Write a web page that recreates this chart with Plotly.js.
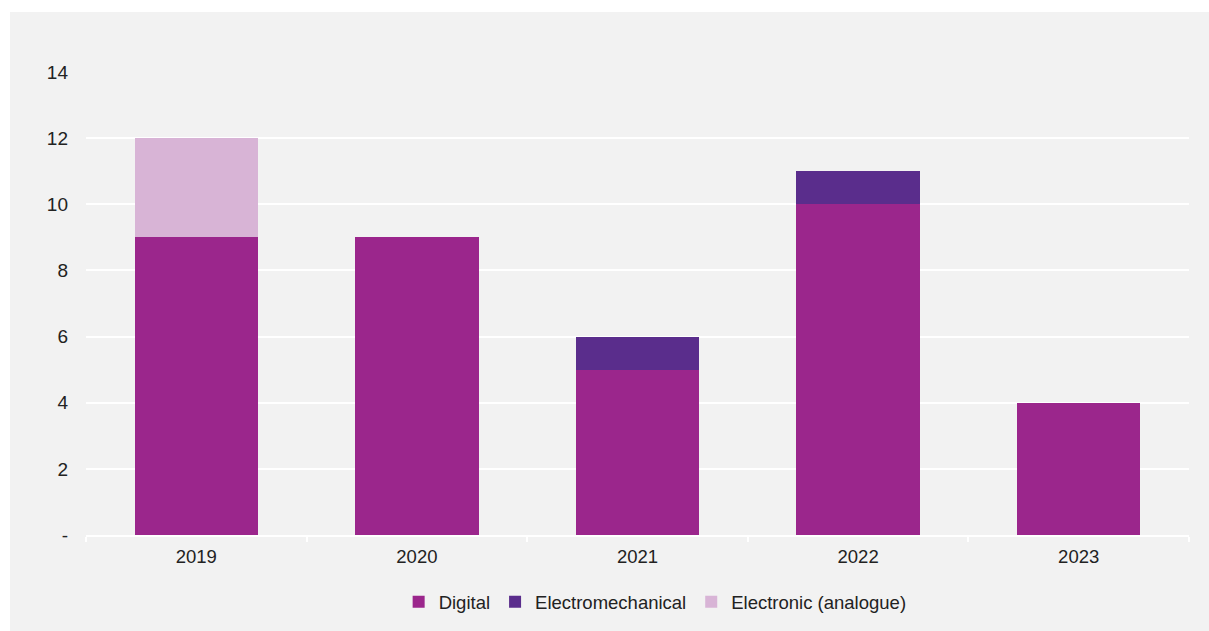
<!DOCTYPE html>
<html><head><meta charset="utf-8">
<script src="https://cdn.plot.ly/plotly-3.0.1.min.js"></script>
<style>
html,body{margin:0;padding:0;background:#fff;overflow:hidden;}
#chart{position:absolute;left:10px;top:12px;width:1199px;height:630px;}
</style></head>
<body><div id="chart"></div>
<script>
const years = ['2019','2020','2021','2022','2023'];
const digital = [9, 9, 5, 10, 4];
const electromechanical = [0, 0, 1, 1, 0];
const electronicAnalogue = [3, 0, 0, 0, 0];
const yTickVals = [0, 2, 4, 6, 8, 10, 12, 14];
const yTickText = ['-', '2', '4', '6', '8', '10', '12', '14'];

const fam = 'Liberation Sans, Arial, sans-serif';
const traces = [
  {type:'bar', name:'Digital', x:years, y:digital, marker:{color:'#9b268c'}, width:0.56},
  {type:'bar', name:'Electromechanical', x:years, y:electromechanical, marker:{color:'#5a2d8c'}, width:0.56},
  {type:'bar', name:'Electronic (analogue)', x:years, y:electronicAnalogue, marker:{color:'#d8b4d6'}, width:0.56}
];
const layout = {
  barmode:'stack',
  paper_bgcolor:'#f2f2f2',
  plot_bgcolor:'#f2f2f2',
  margin:{l:76, r:20, t:60, b:107},
  font:{family:fam, size:18.5, color:'#222'},
  showlegend:true,
  legend:{orientation:'h', x:0.516, xanchor:'center', y:-0.104, yanchor:'top', font:{family:fam, size:18.5, color:'#222'}, traceorder:'normal', itemwidth:30},
  xaxis:{type:'category', showgrid:false, showline:true, linecolor:'#ffffff', linewidth:2,
         ticks:'outside', tickson:'boundaries', tickcolor:'#ffffff', ticklen:5, tickwidth:2, ticklabelstandoff:4,
         tickfont:{family:fam, size:18.5, color:'#222'}},
  yaxis:{range:[0,14], tickvals:yTickVals, ticktext:yTickText, showgrid:true, gridcolor:'#ffffff', gridwidth:2,
         zeroline:false, showline:false, ticks:'', ticklabelstandoff:17,
         tickfont:{family:fam, size:19, color:'#222'}}
};
Plotly.newPlot('chart', traces, layout, {displayModeBar:false, staticPlot:true});
</script></body></html>
